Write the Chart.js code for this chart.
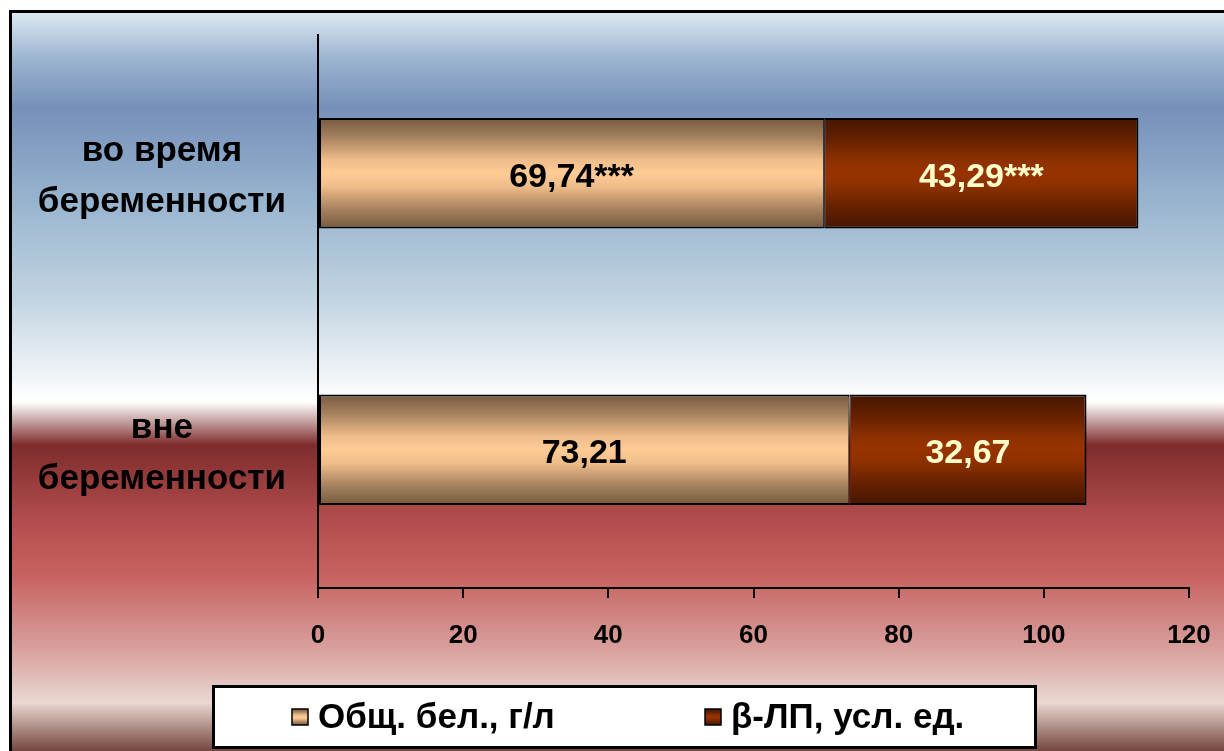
<!DOCTYPE html>
<html lang="ru">
<head>
<meta charset="utf-8">
<title>Общий белок и β-ЛП</title>
<script src="https://cdn.jsdelivr.net/npm/chart.js@4/dist/chart.umd.min.js"></script>
<style>
  html, body { margin: 0; padding: 0; background: #ffffff; }
  #wrap { position: relative; width: 1224px; height: 751px; }
</style>
</head>
<body>
<div id="wrap"><canvas id="chart"></canvas></div>
<script>
// ---- data ----
const categories = [["во время", "беременности"], ["вне", "беременности"]];
const seriesNames = ["Общ. бел., г/л", "β-ЛП, усл. ед."];
const totalProtein = [69.74, 73.21];
const betaLipoproteins = [43.29, 32.67];
const significance = ["***", ""];
const xTicks = [0, 20, 40, 60, 80, 100, 120];

// ---- styling ----
const FONT = "'Liberation Sans', Arial, sans-serif";
const BAR_SHARE = 0.4;

// vertical shading of each bar segment: edge -> centre -> edge
const tanStops = [
  [0, '#76593f'], [0.18, '#a7835f'], [0.38, '#efbd8a'], [0.5, '#ffcb95'],
  [0.62, '#efbd8a'], [0.82, '#a7835f'], [1, '#76593f']
];
const rustStops = [
  [0, '#461600'], [0.18, '#622000'], [0.38, '#8c3000'], [0.5, '#983300'],
  [0.62, '#8c3000'], [0.82, '#622000'], [1, '#461600']
];

function verticalGradient(ctx, top, bottom, stops) {
  const g = ctx.createLinearGradient(0, top, 0, bottom);
  stops.forEach(s => g.addColorStop(s[0], s[1]));
  return g;
}

function barFill(stops) {
  return function (c) {
    const chart = c.chart;
    const yScale = chart.scales && chart.scales.y;
    if (!yScale || !isFinite(yScale.height) || yScale.height <= 0) return stops[3][1];
    const centre = yScale.getPixelForValue(c.dataIndex);
    const half = (yScale.height / categories.length) * BAR_SHARE / 2;
    return verticalGradient(chart.ctx, centre - half, centre + half, stops);
  };
}

// page background: blue sky fading to white, then a red band below
const backdropStops = [
  [13, '#dbe8f2'], [60, '#9ab3cf'], [108, '#7690b9'], [200, '#97b4ce'],
  [300, '#c2d4e2'], [370, '#edf1f5'], [402, '#ffffff'], [445, '#7e2c2c'],
  [520, '#b34d4d'], [575, '#c66260'], [650, '#d9a19e'], [703, '#e9d8d1'],
  [751, '#74463e']
];

const backdropPlugin = {
  id: 'backdrop',
  beforeDraw(chart) {
    const { ctx, width, height } = chart;
    ctx.save();
    ctx.fillStyle = '#ffffff';
    ctx.fillRect(0, 0, width, height);
    const g = ctx.createLinearGradient(0, 13, 0, height);
    backdropStops.forEach(s => g.addColorStop((s[0] - 13) / (height - 13), s[1]));
    ctx.fillStyle = g;
    ctx.fillRect(12, 13, width - 12, height - 13);
    ctx.fillStyle = '#000000';
    ctx.fillRect(9, 10, width - 9, 3);
    ctx.fillRect(9, 10, 3, height - 10);
    ctx.restore();
  }
};

function formatValue(v) {
  return v.toFixed(2).replace('.', ',');
}

const valueLabelPlugin = {
  id: 'valueLabels',
  afterDatasetsDraw(chart) {
    const ctx = chart.ctx;
    const colours = ['#000000', '#ffffcc'];
    ctx.save();
    ctx.font = `bold 34px ${FONT}`;
    ctx.textAlign = 'center';
    ctx.textBaseline = 'middle';
    chart.data.datasets.forEach((ds, di) => {
      const meta = chart.getDatasetMeta(di);
      meta.data.forEach((bar, i) => {
        const x = (bar.x + bar.base) / 2;
        ctx.fillStyle = colours[di];
        ctx.fillText(formatValue(ds.data[i]) + significance[i], x, bar.y + 4);
      });
    });
    ctx.restore();
  }
};

const legendPlugin = {
  id: 'boxedLegend',
  afterDraw(chart) {
    const ctx = chart.ctx;
    const box = { left: 212, top: 685, right: 1037, bottom: 749 };
    const cy = 717;
    const items = [
      { x: 292, stops: tanStops, text: seriesNames[0] },
      { x: 705, stops: rustStops, text: seriesNames[1] }
    ];
    ctx.save();
    ctx.fillStyle = '#ffffff';
    ctx.fillRect(box.left, box.top, box.right - box.left, box.bottom - box.top);
    ctx.strokeStyle = '#000000';
    ctx.lineWidth = 3;
    ctx.strokeRect(box.left + 1.5, box.top + 1.5, box.right - box.left - 3, box.bottom - box.top - 3);
    ctx.font = `bold 35px ${FONT}`;
    ctx.textBaseline = 'middle';
    ctx.textAlign = 'left';
    items.forEach(it => {
      const s = 16;
      ctx.fillStyle = verticalGradient(ctx, cy - s / 2, cy + s / 2, it.stops);
      ctx.fillRect(it.x, cy - s / 2, s, s);
      ctx.lineWidth = 1.5;
      ctx.strokeRect(it.x, cy - s / 2, s, s);
      ctx.fillStyle = '#000000';
      ctx.fillText(it.text, it.x + 26, cy + 1);
    });
    ctx.restore();
  }
};

Chart.defaults.font.family = FONT;
Chart.defaults.font.weight = 'bold';
Chart.defaults.color = '#000000';

new Chart(document.getElementById('chart'), {
  type: 'bar',
  data: {
    labels: categories,
    datasets: [
      {
        label: seriesNames[0],
        data: totalProtein,
        backgroundColor: barFill(tanStops),
        borderColor: '#000000',
        borderWidth: { top: 2, bottom: 2, left: 2, right: 1 },
        borderSkipped: false
      },
      {
        label: seriesNames[1],
        data: betaLipoproteins,
        backgroundColor: barFill(rustStops),
        borderColor: '#000000',
        borderWidth: { top: 2, bottom: 2, left: 1, right: 2 },
        borderSkipped: false
      }
    ]
  },
  options: {
    indexAxis: 'y',
    responsive: true,
    maintainAspectRatio: false,
    animation: false,
    layout: { padding: { top: 35, right: 35, bottom: 100, left: 12 } },
    barPercentage: BAR_SHARE,
    categoryPercentage: 1,
    plugins: {
      legend: { display: false },
      tooltip: { enabled: false }
    },
    scales: {
      x: {
        stacked: true,
        min: xTicks[0],
        max: xTicks[xTicks.length - 1],
        afterBuildTicks(scale) { scale.ticks = xTicks.map(v => ({ value: v })); },
        afterFit(scale) {
          scale.height = 63;
          scale.paddingLeft = 0;
          scale.paddingRight = 0;
        },
        grid: {
          drawOnChartArea: false,
          drawTicks: true,
          tickLength: 10,
          color: '#000000',
          lineWidth: 2
        },
        border: { display: true, color: '#000000', width: 2 },
        ticks: {
          padding: 22,
          font: { size: 26, weight: 'bold', family: FONT },
          color: '#000000',
          maxRotation: 0
        }
      },
      y: {
        stacked: true,
        afterFit(scale) {
          scale.width = 306;
          scale.paddingTop = 0;
          scale.paddingBottom = 0;
        },
        grid: { display: false, drawTicks: false, tickLength: 0 },
        border: { display: true, color: '#000000', width: 2 },
        ticks: {
          crossAlign: 'center',
          padding: 32,
          labelOffset: 4,
          font: { size: 35, weight: 'bold', family: FONT, lineHeight: 1.46 },
          color: '#000000'
        }
      }
    }
  },
  plugins: [backdropPlugin, valueLabelPlugin, legendPlugin]
});
</script>
</body>
</html>
